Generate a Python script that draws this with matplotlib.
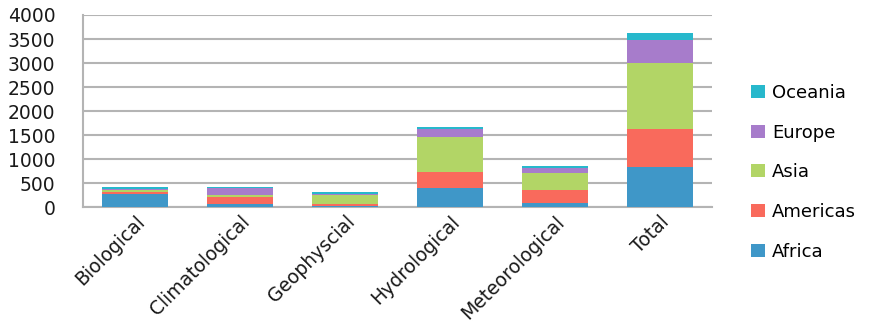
import numpy as np
import matplotlib.pyplot as plt
from matplotlib.patches import Patch

# disaster counts by type, stacked by region
categories = ['Biological', 'Climatological', 'Geophyscial', 'Hydrological',
              'Meteorological', 'Total']
africa = [285, 70, 40, 395, 90, 835]
americas = [35, 140, 40, 345, 275, 790]
asia = [50, 55, 170, 715, 345, 1385]
europe = [20, 140, 40, 175, 100, 470]
oceania = [35, 20, 30, 35, 60, 140]

regions = ['Africa', 'Americas', 'Asia', 'Europe', 'Oceania']
series = [africa, americas, asia, europe, oceania]
colors = ['#3f97c8', '#f96a5c', '#b2d566', '#a77ccb', '#27b8cc']

fig = plt.figure(figsize=(8.69, 3.33), dpi=100)
ax = fig.add_axes([0.0955, 0.377, 0.724, 0.578])

x = np.arange(len(categories))
bottom = np.zeros(len(categories))
for name, vals, c in zip(regions, series, colors):
    ax.bar(x, vals, bottom=bottom, width=0.63, color=c, label=name, zorder=3)
    bottom += np.array(vals)

ax.set_xlim(-0.5, len(categories) - 0.5)
ax.set_ylim(0, 4000)
ax.set_yticks(range(0, 4001, 500))
ax.yaxis.grid(True, color='#b4b4b4', linewidth=1.5, zorder=0)
ax.set_axisbelow(True)

for side in ['top', 'right']:
    ax.spines[side].set_visible(False)
ax.spines['left'].set_color('#b4b4b4')
ax.spines['left'].set_linewidth(1.5)
ax.spines['bottom'].set_color('#b4b4b4')
ax.spines['bottom'].set_linewidth(1.5)

ax.tick_params(axis='both', length=0, labelsize=13.5, colors='#1a1a1a')
ax.tick_params(axis='y', pad=20)
ax.set_xticks(x)
ax.set_xticklabels(categories, rotation=45, ha='right', rotation_mode='anchor')

handles = [Patch(facecolor=c, label=n) for n, c in zip(regions, colors)][::-1]
fig.legend(handles=handles, loc='upper left', bbox_to_anchor=(0.846, 0.797),
           frameon=False, fontsize=13, handlelength=0.75, handleheight=0.75,
           handletextpad=0.4, labelspacing=1.2)

fig.savefig('out.png', dpi=100)
